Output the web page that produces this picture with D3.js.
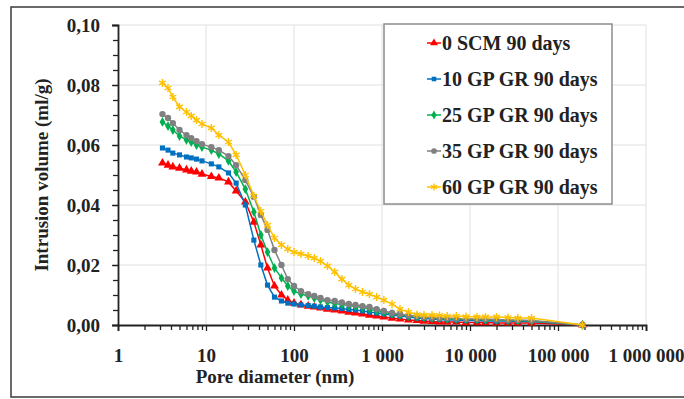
<!DOCTYPE html>
<html>
<head>
<meta charset="utf-8">
<title>Intrusion volume</title>
<script src="https://cdnjs.cloudflare.com/ajax/libs/d3/7.8.5/d3.min.js"></script>
<style>
  body { margin: 0; background: #fff; }
  text { font-family: "Liberation Serif", "Times New Roman", serif; font-weight: bold; fill: #222; }
</style>
</head>
<body>
<div id="vis"></div>
<script>
var W = 684, H = 399;

// pore diameters (nm), shared by all series
var diameters = [3.2, 3.7, 4.2, 5, 6, 6.8, 7.8, 9, 11.5, 14, 18, 22, 28, 35, 42, 50, 60, 72, 85, 100,
  120, 145, 170, 200, 240, 290, 350, 420, 500, 600, 720, 870, 1050, 1300, 1600, 2000, 2500, 3000,
  3700, 4500, 5500, 7000, 9000, 12000, 15000, 20000, 27000, 35000, 50000, 190000];

var vol0 = [0.0540, 0.0533, 0.0527, 0.0523, 0.0517, 0.0513, 0.0510, 0.0503, 0.0495, 0.0490, 0.0477, 0.0447,
  0.0410, 0.0343, 0.0267, 0.0190, 0.0130, 0.0100, 0.0083, 0.0073, 0.0067, 0.0063, 0.0060, 0.0057, 0.0053,
  0.0050, 0.0047, 0.0043, 0.0040, 0.0037, 0.0033, 0.0030, 0.0027, 0.0023, 0.0020, 0.0017, 0.0015, 0.0013,
  0.0012, 0.0010, 0.0010, 0.0010, 0.0008, 0.0008, 0.0008, 0.0007, 0.0007, 0.0007, 0.0007, 0];
var vol10 = [0.0590, 0.0583, 0.0573, 0.0567, 0.0560, 0.0557, 0.0553, 0.0547, 0.0537, 0.0527, 0.0507, 0.0473,
  0.0400, 0.0283, 0.0200, 0.0133, 0.0093, 0.0080, 0.0073, 0.0070, 0.0067, 0.0065, 0.0063, 0.0060, 0.0058,
  0.0057, 0.0055, 0.0052, 0.0050, 0.0047, 0.0043, 0.0040, 0.0037, 0.0033, 0.0030, 0.0027, 0.0023, 0.0022,
  0.0020, 0.0018, 0.0017, 0.0017, 0.0015, 0.0015, 0.0013, 0.0013, 0.0013, 0.0012, 0.0012, 0];
var vol25 = [0.0677, 0.0663, 0.0650, 0.0630, 0.0617, 0.0610, 0.0600, 0.0593, 0.0583, 0.0570, 0.0547, 0.0510,
  0.0453, 0.0377, 0.0300, 0.0243, 0.0190, 0.0157, 0.0130, 0.0113, 0.0103, 0.0097, 0.0090, 0.0083, 0.0077,
  0.0072, 0.0068, 0.0065, 0.0062, 0.0058, 0.0053, 0.0047, 0.0042, 0.0037, 0.0033, 0.0030, 0.0027, 0.0025,
  0.0023, 0.0022, 0.0020, 0.0020, 0.0018, 0.0018, 0.0017, 0.0017, 0.0015, 0.0015, 0.0013, 0];
var vol35 = [0.0703, 0.0690, 0.0673, 0.0650, 0.0633, 0.0623, 0.0613, 0.0603, 0.0593, 0.0583, 0.0563, 0.0533,
  0.0483, 0.0427, 0.0367, 0.0317, 0.0250, 0.0200, 0.0153, 0.0130, 0.0113, 0.0103, 0.0097, 0.0090, 0.0083,
  0.0080, 0.0075, 0.0070, 0.0067, 0.0063, 0.0060, 0.0053, 0.0047, 0.0040, 0.0037, 0.0032, 0.0030, 0.0027,
  0.0025, 0.0023, 0.0023, 0.0022, 0.0020, 0.0020, 0.0020, 0.0018, 0.0017, 0.0017, 0.0015, 0];
var vol60 = [0.0807, 0.0790, 0.0760, 0.0727, 0.0710, 0.0697, 0.0683, 0.0670, 0.0657, 0.0633, 0.0610, 0.0567,
  0.0500, 0.0430, 0.0380, 0.0333, 0.0290, 0.0267, 0.0253, 0.0243, 0.0237, 0.0230, 0.0223, 0.0213, 0.0197,
  0.0177, 0.0153, 0.0133, 0.0120, 0.0110, 0.0103, 0.0093, 0.0083, 0.0070, 0.0053, 0.0043, 0.0035, 0.0033,
  0.0033, 0.0032, 0.0030, 0.0030, 0.0028, 0.0027, 0.0027, 0.0027, 0.0025, 0.0023, 0.0023, 0];

var names = ["0 SCM 90 days", "10 GP GR 90 days", "25 GP GR 90 days", "35 GP GR 90 days", "60 GP GR 90 days"];
var colors = ["#ff0000", "#0070c0", "#00b050", "#808080", "#ffc000"];
var xTicks = [1, 10, 100, 1000, 10000, 100000, 1000000];
var yTicks = [0, 0.02, 0.04, 0.06, 0.08, 0.10];

var series = [vol0, vol10, vol25, vol35, vol60].map(function(v, i) {
  return { name: names[i], color: colors[i],
    pts: v.map(function(y, j) { return { x: diameters[j], y: y }; }) };
});
var symbols = [d3.symbolTriangle, d3.symbolSquare, d3.symbolDiamond, d3.symbolCircle, d3.symbolAsterisk];
var sizes = [34, 26, 28, 32, 44];

var m = { left: 118, right: 38, top: 25, bottom: 74 };
var x = d3.scaleLog().domain([1, 1000000]).range([m.left, W - m.right]);
var y = d3.scaleLinear().domain([0, 0.10]).range([H - m.bottom, m.top]);

var svg = d3.select("#vis").append("svg").attr("width", W).attr("height", H);

// outer frame
svg.append("rect").attr("x", 11).attr("y", 7).attr("width", 690).attr("height", 390)
  .attr("fill", "none").attr("stroke", "#3a3a3a").attr("stroke-width", 1.5);

// grid
svg.append("g").selectAll("line").data(xTicks.slice(1)).enter().append("line")
  .attr("x1", function(d) { return x(d); }).attr("x2", function(d) { return x(d); })
  .attr("y1", y(0)).attr("y2", y(0.10))
  .attr("stroke", "#e0e0e0").attr("stroke-width", 1);
svg.append("g").selectAll("line").data(yTicks.slice(1)).enter().append("line")
  .attr("x1", x(1)).attr("x2", x(1000000))
  .attr("y1", function(d) { return y(d); }).attr("y2", function(d) { return y(d); })
  .attr("stroke", "#e0e0e0").attr("stroke-width", 1);

// axes
var minorX = [];
xTicks.slice(0, -1).forEach(function(d) { for (var k = 2; k < 10; k++) minorX.push(d * k); });
var minorY = d3.range(0, 0.1001, 0.005);

svg.append("g").attr("transform", "translate(0," + y(0) + ")")
  .call(d3.axisBottom(x).tickValues(minorX).tickSize(5).tickFormat(""))
  .call(function(g) { g.select(".domain").remove(); g.selectAll("line").attr("stroke", "#222").attr("stroke-width", 1.3); });
svg.append("g").attr("transform", "translate(" + x(1) + ",0)")
  .call(d3.axisLeft(y).tickValues(minorY).tickSize(5).tickFormat(""))
  .call(function(g) { g.select(".domain").remove(); g.selectAll("line").attr("stroke", "#222").attr("stroke-width", 1.3); });

var xAxis = svg.append("g").attr("transform", "translate(0," + y(0) + ")")
  .call(d3.axisBottom(x).tickValues(xTicks).tickSize(6).tickPadding(18)
    .tickFormat(function(d) { return d3.format(",")(d).replace(/,/g, " "); }));
var yAxis = svg.append("g").attr("transform", "translate(" + x(1) + ",0)")
  .call(d3.axisLeft(y).tickValues(yTicks).tickSize(6).tickPadding(12)
    .tickFormat(function(d) { return d3.format(".2f")(d).replace(".", ","); }));
[xAxis, yAxis].forEach(function(g) {
  g.select(".domain").attr("stroke", "#222").attr("stroke-width", 1.8);
  g.selectAll(".tick line").attr("stroke", "#222").attr("stroke-width", 1.3);
  g.selectAll("text").attr("font-size", 19).attr("font-family", null).attr("fill", "#222");
});

// axis titles
svg.append("text").attr("x", 275).attr("y", 383).attr("text-anchor", "middle")
  .attr("font-size", 19).text("Pore diameter (nm)");
svg.append("text").attr("transform", "translate(48,175) rotate(-90)").attr("text-anchor", "middle")
  .attr("font-size", 19).text("Intrusion volume (ml/g)");

// series
var line = d3.line().x(function(d) { return x(d.x); }).y(function(d) { return y(d.y); });
series.forEach(function(s, i) {
  var g = svg.append("g");
  g.append("path").datum(s.pts).attr("d", line)
    .attr("fill", "none").attr("stroke", s.color).attr("stroke-width", 1.5);
  g.selectAll("path.pt").data(s.pts).enter().append("path").attr("class", "pt")
    .attr("transform", function(d) { return "translate(" + x(d.x) + "," + y(d.y) + ")"; })
    .attr("d", d3.symbol().type(symbols[i]).size(sizes[i]))
    .attr("fill", i === 4 ? "none" : s.color)
    .attr("stroke", i === 4 ? s.color : "none").attr("stroke-width", 1.4);
});

// legend
var lg = svg.append("g");
lg.append("rect").attr("x", 384).attr("y", 24).attr("width", 228).attr("height", 180)
  .attr("fill", "#fff").attr("stroke", "#8c8c8c").attr("stroke-width", 1.5);
series.forEach(function(s, i) {
  var cy = 43 + i * 36;
  lg.append("line").attr("x1", 427).attr("x2", 441).attr("y1", cy).attr("y2", cy)
    .attr("stroke", s.color).attr("stroke-width", 1.5);
  lg.append("path").attr("transform", "translate(434," + cy + ")")
    .attr("d", d3.symbol().type(symbols[i]).size(sizes[i] * 0.8))
    .attr("fill", i === 4 ? "none" : s.color)
    .attr("stroke", i === 4 ? s.color : "none").attr("stroke-width", 1.3);
  lg.append("text").attr("x", 442).attr("y", cy + 7).attr("font-size", 20).text(s.name);
});
</script>
</body>
</html>
